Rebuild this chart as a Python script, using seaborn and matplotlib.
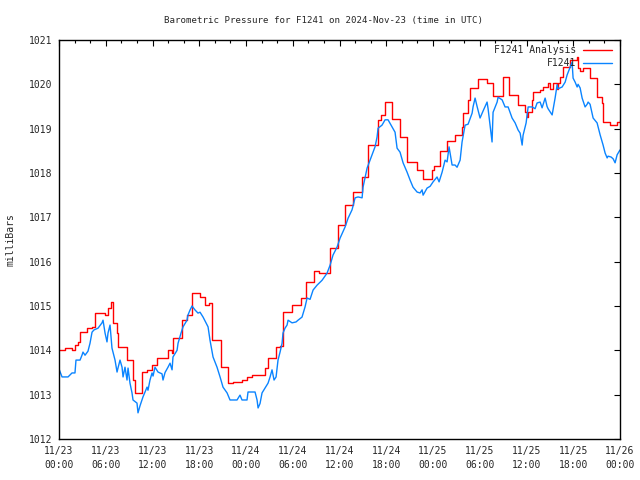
import seaborn as sns
import matplotlib.pyplot as plt
import matplotlib.dates as mdates
import pandas as pd

# hours after 2024-11-23 00:00 UTC and pressure in millibars
analysis_hours = [0, 0.8, 1.7, 2.0, 2.4, 2.7, 3.6, 4.2, 4.6, 5.9, 6.3, 6.7, 6.9, 7.4, 7.6,
                  8.7, 9.5, 9.8, 10.7, 11.3, 11.9, 12.6, 14.0, 14.5, 14.6, 15.8, 16.4, 17.1,
                  18.1, 18.7, 19.3, 19.7, 20.8, 21.7, 22.3, 23.5, 24.1, 24.8, 26.4, 26.8,
                  27.9, 28.4, 28.8, 29.9, 31.0, 31.7, 32.7, 33.4, 34.8, 35.8, 36.7, 37.7,
                  38.9, 39.7, 41.0, 41.3, 41.8, 42.7, 43.8, 44.7, 46.0, 46.7, 47.9, 48.1,
                  48.9, 49.8, 50.8, 51.7, 51.9, 52.5, 52.8, 53.8, 54.9, 55.7, 57.0, 57.8,
                  58.9, 59.8, 60.1, 60.2, 60.7, 60.8, 61.7, 62.1, 62.8, 63.0, 63.4, 63.9,
                  64.1, 64.3, 64.7, 65.6, 66.5, 66.6, 66.9, 67.3, 68.2, 69.1, 69.7, 69.8,
                  70.7, 71.6, 72.0]
analysis_mb = [1014.0, 1014.05, 1014.0, 1014.12, 1014.19, 1014.41, 1014.5, 1014.53, 1014.84,
               1014.8, 1014.95, 1015.09, 1014.62, 1014.39, 1014.07, 1013.78, 1013.33, 1013.04,
               1013.51, 1013.56, 1013.67, 1013.83, 1014.0, 1013.93, 1014.28, 1014.68, 1014.8,
               1015.29, 1015.2, 1015.02, 1015.07, 1014.23, 1013.62, 1013.26, 1013.28, 1013.33,
               1013.4, 1013.44, 1013.6, 1013.83, 1014.07, 1014.1, 1014.86, 1015.02, 1015.18,
               1015.54, 1015.79, 1015.74, 1016.31, 1016.83, 1017.28, 1017.57, 1017.91,
               1018.63, 1019.2, 1019.31, 1019.6, 1019.22, 1018.81, 1018.25, 1018.07, 1017.86,
               1018.07, 1018.16, 1018.5, 1018.72, 1018.85, 1019.04, 1019.35, 1019.65, 1019.92,
               1020.12, 1020.03, 1019.74, 1020.17, 1019.76, 1019.53, 1019.37, 1019.26, 1019.37,
               1019.65, 1019.83, 1019.87, 1019.94, 1020.03, 1019.9, 1020.03, 1019.9, 1020.03,
               1020.17, 1020.39, 1020.55, 1020.62, 1020.37, 1020.3, 1020.37, 1020.14, 1019.71,
               1019.58, 1019.15, 1019.08, 1019.15, 1019.2]

station_hours = [0, 0.39, 1.16, 1.67, 2.05, 2.18, 2.70, 2.95, 3.08, 3.34, 3.72, 3.98, 4.24,
                 4.49, 5.01, 5.52, 5.65, 5.91, 6.16, 6.29, 6.55, 6.80, 6.93, 7.19, 7.45, 7.57,
                 7.83, 8.09, 8.22, 8.47, 8.73, 8.86, 9.11, 9.37, 9.50, 10.01, 10.14, 10.40,
                 10.78, 11.30, 11.42, 11.68, 11.94, 12.07, 12.32, 12.71, 13.22, 13.35, 13.61,
                 13.99, 14.25, 14.51, 14.63, 15.15, 15.28, 15.66, 15.92, 16.43, 16.56, 16.82,
                 17.07, 17.46, 17.84, 18.10, 18.49, 19.13, 19.38, 19.77, 20.28, 20.67, 21.05,
                 21.57, 21.95, 22.85, 23.23, 23.49, 24.13, 24.26, 24.90, 25.16, 25.42, 25.55,
                 25.80, 26.06, 26.44, 26.83, 27.09, 27.34, 27.60, 27.86, 28.11, 28.37, 28.63,
                 28.75, 29.01, 29.27, 29.40, 29.91, 30.42, 30.68, 31.19, 31.58, 31.84, 32.22,
                 32.61, 33.12, 33.76, 34.40, 34.79, 35.17, 35.69, 36.07, 36.71, 37.10, 37.61,
                 38.00, 38.38, 38.90, 39.02, 39.28, 39.54, 39.92, 40.18, 40.56, 40.82, 40.95,
                 41.46, 41.85, 42.23, 42.75, 43.13, 43.39, 43.77, 44.16, 44.67, 45.06, 45.44,
                 45.96, 46.34, 46.60, 46.73, 47.24, 47.63, 48.01, 48.52, 48.78, 49.17, 49.55,
                 49.81, 50.06, 50.45, 50.83, 51.09, 51.48, 51.73, 52.12, 52.50, 53.02, 53.14,
                 53.40, 53.66, 54.04, 54.43, 54.94, 55.07, 55.58, 55.71, 56.23, 56.35, 56.87,
                 57.25, 57.64, 58.15, 58.54, 58.92, 59.18, 59.44, 59.56, 59.95, 60.21, 60.72,
                 61.10, 61.36, 61.75, 62.00, 62.39, 62.64, 62.77, 63.29, 63.67, 63.93, 64.06,
                 64.57, 64.96, 65.21, 65.60, 65.85, 65.98, 66.24, 66.50, 66.62, 66.88, 67.14,
                 67.52, 67.78, 67.91, 68.16, 68.42, 68.55, 69.06, 69.45, 69.83, 70.09, 70.35,
                 70.47, 70.86, 71.12, 71.37, 71.63, 72.0]
station_mb = [1013.58, 1013.4, 1013.4, 1013.49, 1013.49, 1013.78, 1013.78, 1013.89, 1013.96,
              1013.89, 1013.98, 1014.16, 1014.41, 1014.46, 1014.5, 1014.62, 1014.68, 1014.39,
              1014.19, 1014.39, 1014.57, 1014.05, 1013.96, 1013.78, 1013.51, 1013.6, 1013.78,
              1013.62, 1013.4, 1013.62, 1013.33, 1013.6, 1013.26, 1013.04, 1012.88, 1012.81,
              1012.59, 1012.75, 1012.95, 1013.17, 1013.1, 1013.33, 1013.49, 1013.42, 1013.62,
              1013.51, 1013.47, 1013.33, 1013.5, 1013.62, 1013.71, 1013.56, 1013.85, 1014.0,
              1014.16, 1014.39, 1014.53, 1014.68, 1014.8, 1014.91, 1015.0, 1014.91, 1014.84,
              1014.86, 1014.75, 1014.53, 1014.23, 1013.85, 1013.62, 1013.4, 1013.17, 1013.04,
              1012.88, 1012.88, 1012.99, 1012.88, 1012.88, 1013.06, 1013.06, 1013.06, 1012.88,
              1012.7, 1012.8, 1013.04, 1013.15, 1013.26, 1013.4, 1013.56, 1013.33, 1013.4,
              1013.78, 1013.96, 1014.16, 1014.39, 1014.5, 1014.57, 1014.68, 1014.62, 1014.64,
              1014.68, 1014.75, 1014.98, 1015.18, 1015.15, 1015.36, 1015.47, 1015.58, 1015.74,
              1015.92, 1016.15, 1016.33, 1016.53, 1016.78, 1016.98, 1017.17, 1017.44, 1017.46,
              1017.44, 1017.68, 1017.89, 1018.11, 1018.29, 1018.41, 1018.59, 1018.81, 1019.01,
              1019.08, 1019.2, 1019.2, 1019.04, 1018.92, 1018.56, 1018.47, 1018.23, 1018.02,
              1017.84, 1017.68, 1017.57, 1017.55, 1017.62, 1017.5, 1017.66, 1017.7, 1017.8,
              1017.91, 1017.8, 1018.02, 1018.29, 1018.25, 1018.59, 1018.18, 1018.18, 1018.13,
              1018.29, 1018.7, 1019.08, 1019.1, 1019.35, 1019.49, 1019.69, 1019.5, 1019.24,
              1019.4, 1019.6, 1019.45, 1018.7, 1019.37, 1019.6, 1019.71, 1019.65, 1019.49,
              1019.49, 1019.24, 1019.13, 1018.97, 1018.9, 1018.63, 1018.85, 1019.13, 1019.49,
              1019.49, 1019.45, 1019.58, 1019.6, 1019.47, 1019.69, 1019.5, 1019.45, 1019.31,
              1019.69, 1019.99, 1019.9, 1019.94, 1020.05, 1020.21, 1020.39, 1020.5, 1020.14,
              1020.05, 1019.94, 1020.0, 1019.92, 1019.69, 1019.49, 1019.55, 1019.6, 1019.55,
              1019.35, 1019.24, 1019.13, 1018.86, 1018.63, 1018.45, 1018.34, 1018.38, 1018.36,
              1018.32, 1018.23, 1018.41, 1018.52]

start = pd.Timestamp('2024-11-23 00:00')
analysis = pd.DataFrame({'time': start + pd.to_timedelta(analysis_hours, unit='h'),
                         'mb': analysis_mb})
station = pd.DataFrame({'time': start + pd.to_timedelta(station_hours, unit='h'),
                        'mb': station_mb})

sns.set_style('white')
plt.rcParams['font.family'] = ['DejaVu Sans Mono']
plt.rcParams['font.size'] = 7

fig = plt.figure(figsize=(6.4, 4.8), dpi=100)
ax = fig.add_axes([59 / 640, 41 / 480, 561 / 640, 399 / 480])

sns.lineplot(data=analysis, x='time', y='mb', ax=ax, color='#ff0000', lw=1,
             drawstyle='steps-post', estimator=None, label='F1241 Analysis')
sns.lineplot(data=station, x='time', y='mb', ax=ax, color='#0a84ff', lw=1,
             estimator=None, label='F1241')

ax.set_xlim(start, start + pd.Timedelta(hours=72))
ax.set_ylim(1012, 1021)
ax.set_yticks(range(1012, 1022))
ax.xaxis.set_major_locator(mdates.HourLocator(byhour=[0, 6, 12, 18]))
ax.xaxis.set_minor_locator(mdates.HourLocator(interval=2))
ax.xaxis.set_major_formatter(mdates.DateFormatter('%m/%d\n%H:%M'))
ax.tick_params(which='both', direction='in', top=True, right=True, color='black')
ax.tick_params(which='major', length=4.5, width=0.8, pad=5)
ax.tick_params(which='minor', length=2.2, width=0.8)
for lab in ax.get_xticklabels():
    lab.set_linespacing(1.5)
for s in ax.spines.values():
    s.set_color('black')
    s.set_linewidth(1)
ax.set_xlabel('')
ax.set_ylabel('')

# markerfirst=False puts the sample line on the right and right-aligns the rows
ax.legend(loc='upper right', bbox_to_anchor=(0.992, 0.996), frameon=False,
          markerfirst=False, handlelength=2.9, handletextpad=0.7, labelspacing=0.25,
          borderaxespad=0.0, fontsize=7)

fig.text(0.506, 0.958, 'Barometric Pressure for F1241 on 2024-Nov-23 (time in UTC)',
         ha='center', va='center', fontsize=6.6)
fig.text(0.017, 0.5, 'milliBars', rotation=90, ha='center', va='center', fontsize=7)

fig.savefig('out.png', dpi=100)
